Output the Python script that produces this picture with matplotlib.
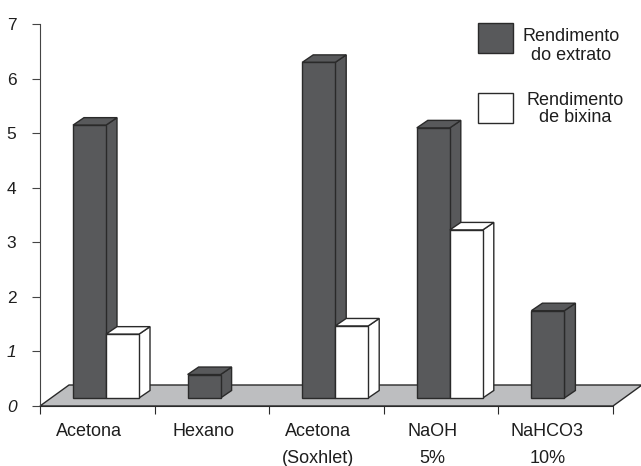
import numpy as np
import matplotlib
matplotlib.use("Agg")
import matplotlib.pyplot as plt
from matplotlib.patches import Polygon, Rectangle
from matplotlib.transforms import blended_transform_factory

plt.rcParams['font.family'] = ['Liberation Sans', 'DejaVu Sans']

# Rendimentos (%) por método de extração
categorias = ['Acetona', 'Hexano', 'Acetona\n(Soxhlet)', 'NaOH\n5%', 'NaHCO3\n10%']
rend_extrato = [5.0, 0.43, 6.15, 4.95, 1.6]
rend_bixina = [1.17, None, 1.32, 3.08, None]
rotulos_legenda = ['Rendimento\ndo extrato', 'Rendimento\nde bixina']

cor_escura = '#58595b'
cor_borda = '#2a2a2a'
cor_piso = '#bdbec0'
cor_texto = '#1e1e1e'

W, H = 641, 466
fig = plt.figure(figsize=(W / 100, H / 100), dpi=100)
# eixo: x de 40 a 613 px, y de 24 a 406 px (a partir do topo)
ax = fig.add_axes([40 / W, (H - 406) / H, 573 / W, 382 / H])
ax.set_xlim(0, len(categorias))
ax.set_ylim(0, 7)

# profundidade do "3D" em unidades de dados
px_x = len(categorias) / 573
px_y = 7 / 382
piso_dx, piso_dy = 29 * px_x, 21 * px_y
barra_dx, barra_dy = 11 * px_x, 7.5 * px_y
base = 8 * px_y
larg = 33 * px_x
desloc = 33 * px_x

# piso cinza
n = len(categorias)
piso = Polygon([(0, 0), (n, 0), (n + piso_dx, piso_dy), (piso_dx, piso_dy)],
               closed=True, facecolor=cor_piso, edgecolor=cor_borda, lw=1.0,
               clip_on=False, zorder=1)
ax.add_patch(piso)


def barra3d(x0, v, cor):
    y1 = base + v
    frente = Polygon([(x0, base), (x0 + larg, base), (x0 + larg, y1), (x0, y1)])
    topo = Polygon([(x0, y1), (x0 + larg, y1), (x0 + larg + barra_dx, y1 + barra_dy),
                    (x0 + barra_dx, y1 + barra_dy)])
    lado = Polygon([(x0 + larg, base), (x0 + larg + barra_dx, base + barra_dy),
                    (x0 + larg + barra_dx, y1 + barra_dy), (x0 + larg, y1)])
    for p in (lado, topo, frente):
        p.set_facecolor(cor)
        p.set_edgecolor(cor_borda)
        p.set_linewidth(1.0)
        p.set_joinstyle('miter')
        p.set_zorder(3)
        p.set_clip_on(False)
        ax.add_patch(p)


for i, (ve, vb) in enumerate(zip(rend_extrato, rend_bixina)):
    x0 = i + desloc
    barra3d(x0, ve, cor_escura)
    if vb is not None:
        barra3d(x0 + larg, vb, 'white')

# eixos
for s in ('top', 'right'):
    ax.spines[s].set_visible(False)
ax.spines['left'].set_color('#444444')
ax.spines['bottom'].set_color(cor_borda)
ax.spines['bottom'].set_zorder(4)
ax.set_xticks(np.arange(n + 1))
ax.set_xticklabels([])
ax.tick_params(axis='x', direction='out', length=6, color=cor_borda)
ax.set_yticks(np.arange(8))
ax.tick_params(axis='y', direction='out', length=6, color='#444444',
               labelsize=12.5, pad=11, labelcolor=cor_texto)
for lab in ax.get_yticklabels():
    if lab.get_text() in ('0', '1'):
        lab.set_style('italic')

# rótulos das categorias, uma linha de cada vez (linhas de base em px abaixo do eixo)
trans = blended_transform_factory(ax.transData, ax.transAxes)
linhas_base = [30.5, 57]
for i, c in enumerate(categorias):
    for j, linha in enumerate(c.split('\n')):
        ax.text(i + 0.426, -linhas_base[j] / 382, linha, transform=trans,
                ha='center', va='baseline', fontsize=13, color=cor_texto)

# legenda desenhada à mão: quadrados e textos centrados
def px(x, y):
    return x / W, 1 - y / H

quadros = [(478, 53.3), (478, 123.3)]
cores_leg = [cor_escura, 'white']
centros_txt = [571, 575.5]
bases_txt = [(41, 60), (105, 122)]
for (qx, qy), cor, cx, bases, rot in zip(quadros, cores_leg, centros_txt, bases_txt,
                                         rotulos_legenda):
    fig.add_artist(Rectangle(px(qx, qy), 35 / W, 30 / H, transform=fig.transFigure,
                             facecolor=cor, edgecolor=cor_borda, lw=1.0))
    for b, linha in zip(bases, rot.split('\n')):
        fig.text(*px(cx, b), linha, ha='center', va='baseline', fontsize=13,
                 color=cor_texto)

fig.savefig('out.png', dpi=100)
